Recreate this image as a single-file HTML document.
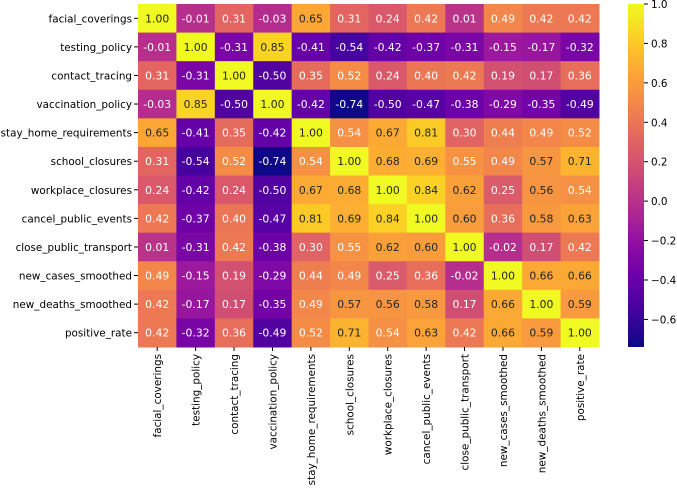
<!DOCTYPE html>
<html><head><meta charset="utf-8"><style>
body{margin:0;background:#fff;}
svg text{font-family:"DejaVu Sans","Liberation Sans",sans-serif;}
</style></head><body>
<svg id="chart" width="677" height="488"></svg>
<script>
const labels=["facial_coverings","testing_policy","contact_tracing","vaccination_policy","stay_home_requirements","school_closures","workplace_closures","cancel_public_events","close_public_transport","new_cases_smoothed","new_deaths_smoothed","positive_rate"];
const matrix=[
[1.00,-0.01,0.31,-0.03,0.65,0.31,0.24,0.42,0.01,0.49,0.42,0.42],
[-0.01,1.00,-0.31,0.85,-0.41,-0.54,-0.42,-0.37,-0.31,-0.15,-0.17,-0.32],
[0.31,-0.31,1.00,-0.50,0.35,0.52,0.24,0.40,0.42,0.19,0.17,0.36],
[-0.03,0.85,-0.50,1.00,-0.42,-0.74,-0.50,-0.47,-0.38,-0.29,-0.35,-0.49],
[0.65,-0.41,0.35,-0.42,1.00,0.54,0.67,0.81,0.30,0.44,0.49,0.52],
[0.31,-0.54,0.52,-0.74,0.54,1.00,0.68,0.69,0.55,0.49,0.57,0.71],
[0.24,-0.42,0.24,-0.50,0.67,0.68,1.00,0.84,0.62,0.25,0.56,0.54],
[0.42,-0.37,0.40,-0.47,0.81,0.69,0.84,1.00,0.60,0.36,0.58,0.63],
[0.01,-0.31,0.42,-0.38,0.30,0.55,0.62,0.60,1.00,-0.02,0.17,0.42],
[0.49,-0.15,0.19,-0.29,0.44,0.49,0.25,0.36,-0.02,1.00,0.66,0.66],
[0.42,-0.17,0.17,-0.35,0.49,0.57,0.56,0.58,0.17,0.66,1.00,0.59],
[0.42,-0.32,0.36,-0.49,0.52,0.71,0.54,0.63,0.42,0.66,0.59,1.00]];
const cbTicks=[1.0,0.8,0.6,0.4,0.2,0.0,-0.2,-0.4,-0.6];
const vmin=-0.74,vmax=1.0;
const L=138,T=4,W=461,H=343,n=labels.length,cw=W/n,ch=H/n;
const stops=["#0d0887","#41049d","#6a00a8","#8f0da4","#b12a90","#cc4778","#e16462","#f2844b","#fca636","#fcce25","#f0f921"].map(h=>[1,3,5].map(i=>parseInt(h.substr(i,2),16)));
function cmap(v){let t=Math.max(0,Math.min(1,(v-vmin)/(vmax-vmin)))*10;let i=Math.min(9,Math.floor(t)),f=t-i;return stops[i].map((c,k)=>c+(stops[i+1][k]-c)*f);}
function rgb(c){return`rgb(${c.map(Math.round).join(",")})`;}
function lum(c){const l=c.map(x=>{x/=255;return x<=0.03928?x/12.92:Math.pow((x+0.055)/1.055,2.4)});return 0.2126*l[0]+0.7152*l[1]+0.0722*l[2];}
const s=document.getElementById('chart');const NS="http://www.w3.org/2000/svg";
function mk(tag,a,txt){const e=document.createElementNS(NS,tag);for(const k in a)e.setAttribute(k,a[k]);if(txt!==undefined)e.textContent=txt;s.appendChild(e);return e;}
const x=i=>L+i*cw,y=j=>T+j*ch;
const FS=10.4;
matrix.forEach((row,j)=>row.forEach((v,i)=>{
 const c=cmap(v);
 const r=mk('rect',{x:x(i),y:y(j),width:cw+0.5,height:ch+0.5,fill:rgb(c)});
 
 
 const t=mk('text',{x:x(i)+cw/2,y:y(j)+ch/2+4,'text-anchor':'middle','font-size':10.8,fill:lum(c)>0.408?'#262626':'#fff'},v.toFixed(2));
 
 
}));
labels.forEach((lb,j)=>{
 mk('line',{x1:L-4,x2:L,y1:y(j)+ch/2,y2:y(j)+ch/2,stroke:'#000'});
 const t=mk('text',{x:L-6,y:y(j)+ch/2+4,'text-anchor':'end','font-size':FS,fill:'#000'},lb);
 
 
});
labels.forEach((lb,i)=>{
 const cx=x(i)+cw/2;
 mk('line',{x1:cx,x2:cx,y1:T+H,y2:T+H+4,stroke:'#000'});
 const t=mk('text',{x:cx+4,y:T+H+7,'text-anchor':'end','font-size':FS,fill:'#000',transform:`rotate(-90 ${cx+4} ${T+H+7})`},lb);
 
 
});
const CX=628,CW=16;
const g=mk('defs',{});
const lg=document.createElementNS(NS,'linearGradient');lg.setAttribute('id','pl');lg.setAttribute('x1',0);lg.setAttribute('y1',1);lg.setAttribute('x2',0);lg.setAttribute('y2',0);g.appendChild(lg);
stops.forEach((c,k)=>{const st=document.createElementNS(NS,'stop');st.setAttribute('offset',k/10);st.setAttribute('stop-color',rgb(c));lg.appendChild(st);});
const cb=mk('rect',{x:CX,y:T,width:CW,height:H,fill:'url(#pl)'});


const cy=v=>T+H-(v-vmin)/(vmax-vmin)*H;
cbTicks.forEach(v=>{
 mk('line',{x1:CX+CW,x2:CX+CW+4,y1:cy(v),y2:cy(v),stroke:'#000'});
 const t=mk('text',{x:CX+CW+7,y:cy(v)+4,'font-size':FS,fill:'#000'},(v<0?'\u2212':'')+Math.abs(v).toFixed(1));
 
 
});
</script>
</body></html>
